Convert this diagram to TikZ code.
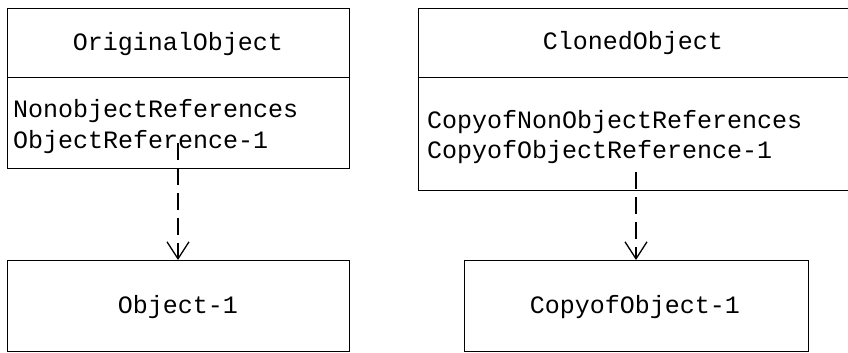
\documentclass[tikz,border=0pt]{standalone}
\usepackage{fontspec}
\setmonofont{Liberation Mono}
\usetikzlibrary{arrows.meta}
\tikzset{
  boxpart/.style={draw, line width=1.3pt, rectangle, inner sep=0pt, anchor=north west},
  label/.style={font=\fontsize{25}{30}\selectfont\ttfamily, inner sep=0pt},
  refarrow/.style={draw, line width=1.3pt, dash pattern=on 17pt off 8pt,
    -{Straight Barb[length=17pt,width=22pt,line width=1.3pt]}}
}
\begin{document}
\begin{tikzpicture}[x=1pt,y=-1pt]
\useasboundingbox (0,0) rectangle (848,353);
% left class box
\node[boxpart, minimum width=342pt, minimum height=69pt] (origHead) at (7,8) {};
\node[boxpart, minimum width=342pt, minimum height=91pt] (origBody) at (7,77) {};
% right class box (runs past the right edge)
\node[boxpart, minimum width=434pt, minimum height=69pt] (cloneHead) at (418,8) {};
\node[boxpart, minimum width=434pt, minimum height=113pt] (cloneBody) at (418,77) {};
% object boxes
\node[boxpart, minimum width=342pt, minimum height=91pt] (obj1) at (7,260) {};
\node[boxpart, minimum width=344pt, minimum height=91pt] (copyObj) at (464,260) {};
% texts
\node[label, anchor=base] (tOrig) at (178,51) {OriginalObject};
\node[label, anchor=base west] (tNon) at (13,117) {NonobjectReferences};
\node[label, anchor=base west] (tRef) at (13,148) {ObjectReference-1};
\node[label, anchor=base] (tClone) at (633,50) {ClonedObject};
\node[label, anchor=base west] (tCNon) at (427,128) {CopyofNonObjectReferences};
\node[label, anchor=base west] (tCRef) at (427,158) {CopyofObjectReference-1};
\node[label, anchor=base] (tObj) at (178,313) {Object-1};
\node[label, anchor=base] (tCObj) at (635,313) {CopyofObject-1};
% reference arrows
\coordinate (s1) at (178,143);
\coordinate (s2) at (636,172);
\draw[refarrow] (s1) -- (s1 |- obj1.north);
\draw[refarrow] (s2) -- (s2 |- copyObj.north);
\end{tikzpicture}
\end{document}
